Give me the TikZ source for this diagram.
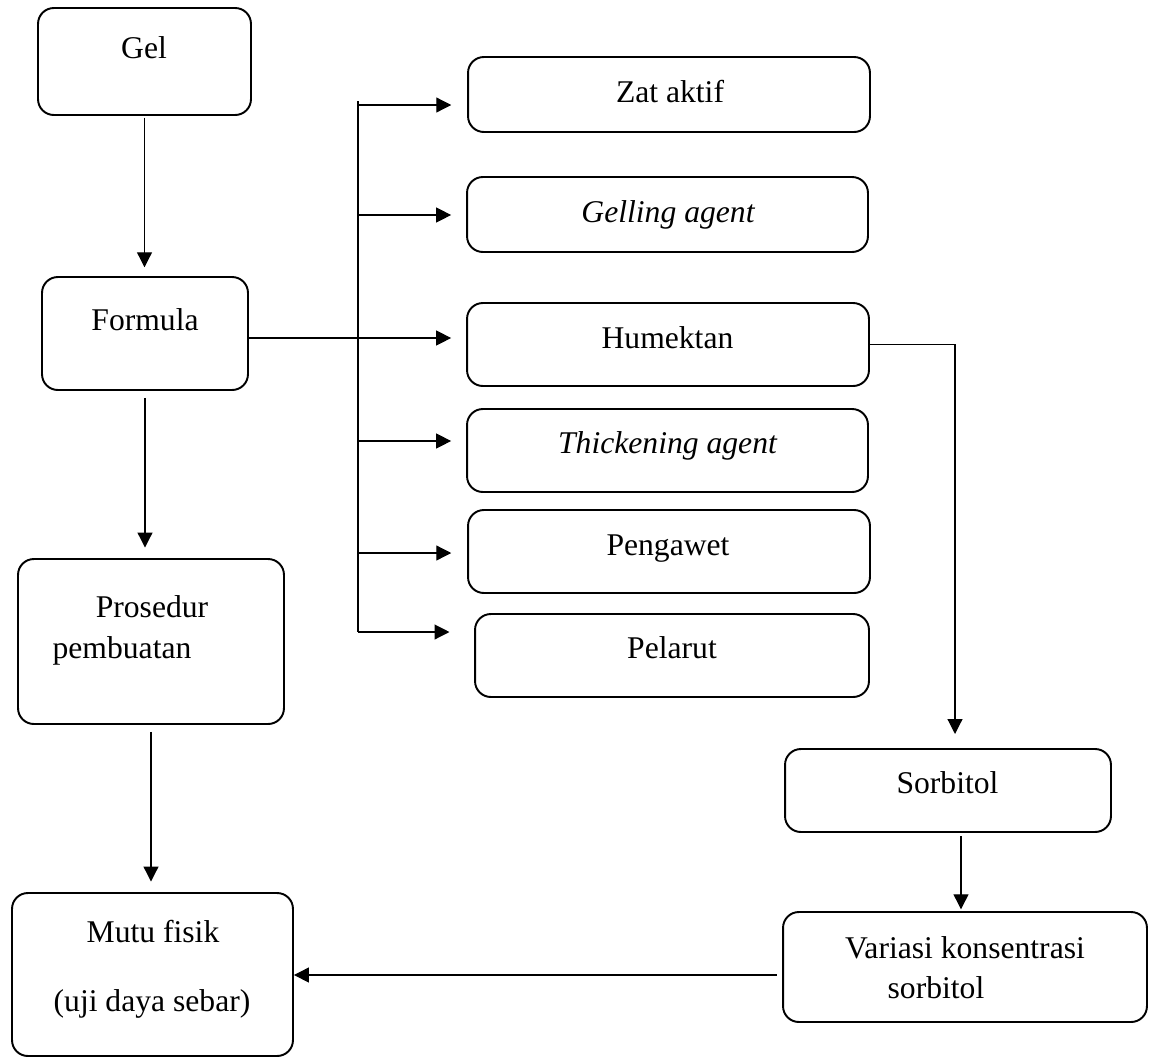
\documentclass[tikz,border=0pt]{standalone}
\usepackage{fontspec}
\setmainfont{Liberation Serif}
\usetikzlibrary{arrows.meta,calc}
\tikzset{
  box/.style={draw=black,line width=1.1pt,rounded corners=9pt,inner sep=0pt},
  txt/.style={anchor=base,align=center,inner sep=0pt,font=\fontsize{18}{21.6}\selectfont},
  ln/.style={draw=black,line width=.7pt},
  ar/.style={ln,-{Triangle[length=8.5pt,width=8.5pt]}},
}
\begin{document}
\begin{tikzpicture}[x=0.02cm,y=-0.02cm]
  \useasboundingbox (0,0) rectangle (1157,1059);

  % kolom kiri
  \node[box,minimum width=4.26cm,minimum height=2.14cm] (gel) at (144.5,61.5) {};
  \node[box,minimum width=4.12cm,minimum height=2.26cm] (formula) at (145,333.5) {};
  \node[box,minimum width=5.32cm,minimum height=3.30cm] (prosedur) at (151,641.5) {};
  \node[box,minimum width=5.62cm,minimum height=3.26cm] (mutu) at (152.5,974.5) {};

  % komponen formula
  \node[box,minimum width=8.04cm,minimum height=1.50cm] (zat) at (669,94.5) {};
  \node[box,minimum width=8.02cm,minimum height=1.50cm] (gelling) at (667.5,214.5) {};
  \node[box,minimum width=8.04cm,minimum height=1.66cm] (humektan) at (668,344.5) {};
  \node[box,minimum width=8.02cm,minimum height=1.66cm] (thick) at (667.5,450.5) {};
  \node[box,minimum width=8.04cm,minimum height=1.66cm] (pengawet) at (669,551.5) {};
  \node[box,minimum width=7.88cm,minimum height=1.66cm] (pelarut) at (672,655.5) {};

  % humektan
  \node[box,minimum width=6.52cm,minimum height=1.66cm] (sorbitol) at (948,790.5) {};
  \node[box,minimum width=7.28cm,minimum height=2.20cm] (variasi) at (965,967) {};

  % teks
  \node[txt] (tgel) at (144,58) {Gel};
  \node[txt] (tformula) at (145,330) {Formula};
  \node[txt] (tpros) at (152,617) {Prosedur};
  \node[txt] (tpemb) at (122,658) {pembuatan};
  \node[txt] (tmutu) at (153,942) {Mutu fisik};
  \node[txt] (tuji) at (152,1011) {(uji daya sebar)};
  \node[txt] (tzat) at (670,102) {Zat aktif};
  \node[txt] (tgelling) at (668,222) {\itshape Gelling agent};
  \node[txt] (thum) at (667.5,348) {Humektan};
  \node[txt] (tthick) at (667.5,453) {\itshape Thickening agent};
  \node[txt] (tpeng) at (668,555) {Pengawet};
  \node[txt] (tpel) at (672,658) {Pelarut};
  \node[txt] (tsorb) at (947.5,793) {Sorbitol};
  \node[txt] (tvar) at (965,958) {Variasi konsentrasi};
  \node[txt] (tvsorb) at (936,998) {sorbitol};

  % alur utama
  \draw[ar,shorten <=1pt,shorten >=5pt] (gel.south) -- (gel.south |- formula.north);
  \draw[ar,shorten <=4pt,shorten >=6pt] (formula.south) -- (formula.south |- prosedur.north);
  \draw[ar,shorten <=4pt,shorten >=6pt] (prosedur.south) -- (prosedur.south |- mutu.north);

  % cabang formula
  \coordinate (bustop) at (358,101);
  \coordinate (busbot) at (358,632);
  \draw[ln] (bustop) -- (busbot);
  \draw[ln] (formula.east |- 0,338) -- (bustop |- 0,338);
  \foreach \b/\yy/\sh in {zat/105/9pt,gelling/215/8.5pt,humektan/338/8.5pt,
                          thick/441/8.5pt,pengawet/553/9pt,pelarut/632/14pt}
    \draw[ar,shorten >=\sh] (bustop |- 0,\yy) -- (\b.west |- 0,\yy);

  % humektan ke sorbitol
  \draw[ar,shorten >=8pt] (humektan.east) -| ($(sorbitol.north)+(7,0)$);
  \coordinate (sv) at ($(sorbitol.south)+(13,0)$);
  \draw[ar,shorten <=2pt,shorten >=1pt] (sv) -- (sv |- variasi.north);
  \draw[ar,shorten <=3pt] (variasi.west |- 0,975) -- (mutu.east |- 0,975);
\end{tikzpicture}
\end{document}
